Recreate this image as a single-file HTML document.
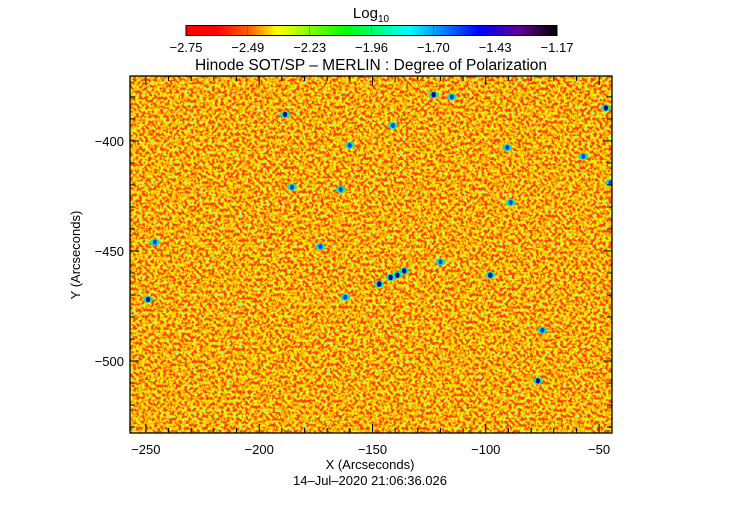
<!DOCTYPE html>
<html><head><meta charset="utf-8"><style>
html,body{margin:0;padding:0;background:#fff;}
svg text{font-family:"Liberation Sans",sans-serif;fill:#000;}
</style></head><body>
<svg id="chart" width="742" height="512" viewBox="0 0 742 512" xmlns="http://www.w3.org/2000/svg">
<defs>
<linearGradient id="cbar" x1="0" x2="1" y1="0" y2="0">
<stop offset="0" stop-color="#ff0000"/><stop offset="0.08" stop-color="#ff0000"/>
<stop offset="0.17" stop-color="#ff6000"/><stop offset="0.245" stop-color="#ffff00"/>
<stop offset="0.43" stop-color="#00ff00"/><stop offset="0.6" stop-color="#00ffff"/>
<stop offset="0.79" stop-color="#0000ff"/><stop offset="0.9" stop-color="#600090"/>
<stop offset="1" stop-color="#000000"/>
</linearGradient>
<filter id="noise" x="0" y="0" width="100%" height="100%" filterUnits="objectBoundingBox">
<feTurbulence type="fractalNoise" baseFrequency="0.33" numOctaves="2" seed="7" result="t"/>
<feColorMatrix in="t" type="matrix" values="2.6 0 0 0 -0.95  2.6 0 0 0 -0.95  2.6 0 0 0 -0.95  0 0 0 0 1" result="g"/>
<feComponentTransfer in="g">
<feFuncR type="discrete" tableValues="1 1 1 1 1 1 0.7 0.3"/>
<feFuncG type="discrete" tableValues="0.05 0.25 0.42 0.55 0.72 0.92 1 1"/>
<feFuncB type="discrete" tableValues="0 0 0 0 0 0 0 0.2"/>
<feFuncA type="discrete" tableValues="1"/>
</feComponentTransfer>
</filter>
</defs>
<g id="cbar-g">
<text x="371" y="18" font-size="15" text-anchor="middle">Log<tspan font-size="10" dy="4">10</tspan></text>
<rect x="186" y="25.5" width="371" height="10" fill="url(#cbar)" stroke="#000" stroke-width="1"/>
</g>
<text x="371" y="70" font-size="15.5" text-anchor="middle">Hinode SOT/SP – MERLIN : Degree of Polarization</text>
<clipPath id="clip"><rect x="130" y="76" width="482" height="357"/></clipPath>
<g clip-path="url(#clip)">
<rect x="130" y="76" width="482" height="357" fill="#ff7a00" filter="url(#noise)"/>
<g id="blobs"></g>
</g>
<rect x="130" y="76" width="482" height="357" fill="none" stroke="#000" stroke-width="1.3"/>
<g id="axes"></g>
<text x="370" y="469" font-size="13" text-anchor="middle">X (Arcseconds)</text>
<text x="80" y="255" font-size="13" text-anchor="middle" transform="rotate(-90 80 255)">Y (Arcseconds)</text>
<text x="370" y="485" font-size="13" text-anchor="middle">14–Jul–2020 21:06:36.026</text>
</svg>
<script>
const cbarTicks = ["-2.75","-2.49","-2.23","-1.96","-1.70","-1.43","-1.17"];
const xTicks = [-250,-200,-150,-100,-50];
const yTicks = [-400,-450,-500];
const blobX = [-188.6,-160,-123,-115,-47,-141,-185.5,-164,-246,-249,-142,-136,-162,-98,-75,-77,-90.5,-57,-45,-89,-173,-120,-147,-139];
const blobY = [-388,-402,-379,-380,-385,-393,-421,-422,-446,-472,-462,-459,-471,-461,-486,-509,-403,-407,-419,-428,-448,-455,-465,-461];
const blobV = [0.8,0.7,0.8,0.75,0.8,0.7,0.75,0.7,0.7,0.8,0.85,0.8,0.75,0.8,0.75,0.8,0.7,0.7,0.7,0.7,0.7,0.7,0.85,0.8];
const X0=-257, X1=-44.3, Y0=-370.5, Y1=-532.7;
const PL=130, PR=612, PT=76, PB=433;
const xs = v => PL + (v - X0) / (X1 - X0) * (PR - PL);
const ys = v => PT + (v - Y0) / (Y1 - Y0) * (PB - PT);
const NS="http://www.w3.org/2000/svg";
function mk(tag, attrs){const e=document.createElementNS(NS,tag);for(const k in attrs)e.setAttribute(k,attrs[k]);return e;}
const cb=document.getElementById('cbar-g');
cbarTicks.forEach((t,i)=>{
  const x=186+i*371/(cbarTicks.length-1);
  const tx=mk('text',{x:x,y:52,'font-size':13,'text-anchor':'middle'});
  tx.textContent=t.replace('-','\u2212');
  
  
  cb.appendChild(tx);
  if(i>0&&i<cbarTicks.length-1){
    const l=mk('line',{x1:x,x2:x,y1:25.5,y2:35.5,stroke:'#000','stroke-width':0.5,'stroke-opacity':0.5});
    
    
    cb.appendChild(l);
  }
});
const bg=document.getElementById('blobs');
blobX.forEach((bx,i)=>{
  const cx=xs(bx), cy=ys(blobY[i]);
  const c=mk('ellipse',{cx:cx,cy:cy,rx:5,ry:3.5,fill:'#20e0a0'});
  
  
  bg.appendChild(c);
  const s=1.5+blobV[i]*2.5;
  const r=mk('ellipse',{cx:cx,cy:cy,rx:s/1.6,ry:s/1.3,fill:blobV[i]>0.78?'#0000b0':'#0040ff'});
  
  
  bg.appendChild(r);
});
const ax=document.getElementById('axes');
for(let v=-250; v<=-50; v+=10){
  const x=xs(v); const major=(v%50===0);
  const L=major?9:5;
  [[PB,PB-L],[PT,PT+L]].forEach(p=>{
    const l=mk('line',{x1:x,x2:x,y1:p[0],y2:p[1],stroke:'#000','stroke-width':1});
    
    
    ax.appendChild(l);
  });
}
xTicks.forEach(v=>{
  const t=mk('text',{x:xs(v),y:454,'font-size':13,'text-anchor':'middle'});
  t.textContent=String(v).replace('-','\u2212');
  
  
  ax.appendChild(t);
});
for(let v=-380; v>=-530; v-=10){
  const y=ys(v); const major=(v%50===0);
  const L=major?9:5;
  [[PL,PL+L],[PR,PR-L]].forEach(p=>{
    const l=mk('line',{x1:p[0],x2:p[1],y1:y,y2:y,stroke:'#000','stroke-width':1});
    
    
    ax.appendChild(l);
  });
}
yTicks.forEach(v=>{
  const t=mk('text',{x:124,y:ys(v)+5,'font-size':13,'text-anchor':'end'});
  t.textContent=String(v).replace('-','\u2212');
  
  
  ax.appendChild(t);
});
</script>
</body></html>
